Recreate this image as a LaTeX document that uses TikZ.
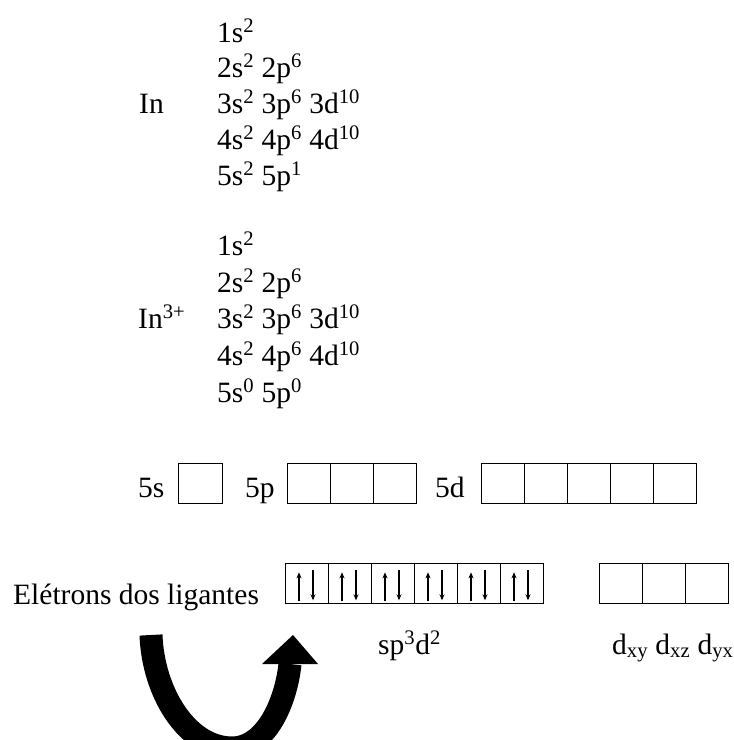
\documentclass[tikz,border=0pt]{standalone}
\usepackage{fontspec}
\setmainfont{Liberation Serif}
\usetikzlibrary{arrows.meta}
\begin{document}
\begin{tikzpicture}[x=1pt,y=-1pt,
  txt/.style={anchor=base west, inner sep=0pt, font=\fontsize{29.5}{35}\selectfont},
  orb/.style={draw, line width=1.3pt, minimum width=43pt, minimum height=40pt, inner sep=0pt, anchor=north west},
  spin/.style={line width=1.1pt, -{Stealth[length=6pt,width=5pt]}},
  bigarrow/.style={line width=23pt}]
\useasboundingbox (0,0) rectangle (734,740);

% In
\node[txt] (inlabel) at (139,113) {In};
\node[txt] (a1) at (217,42) {1s\textsuperscript{2}};
\node[txt] (a2) at (217,77) {2s\textsuperscript{2} 2p\textsuperscript{6}};
\node[txt] (a3) at (217,113) {3s\textsuperscript{2} 3p\textsuperscript{6} 3d\textsuperscript{10}};
\node[txt] (a4) at (217,149) {4s\textsuperscript{2} 4p\textsuperscript{6} 4d\textsuperscript{10}};
\node[txt] (a5) at (217,185) {5s\textsuperscript{2} 5p\textsuperscript{1}};

% In3+
\node[txt] (ionlabel) at (138,328) {In\textsuperscript{3+}};
\node[txt] (b1) at (217,255) {1s\textsuperscript{2}};
\node[txt] (b2) at (217,292) {2s\textsuperscript{2} 2p\textsuperscript{6}};
\node[txt] (b3) at (217,328) {3s\textsuperscript{2} 3p\textsuperscript{6} 3d\textsuperscript{10}};
\node[txt] (b4) at (217,365) {4s\textsuperscript{2} 4p\textsuperscript{6} 4d\textsuperscript{10}};
\node[txt] (b5) at (217,402) {5s\textsuperscript{0} 5p\textsuperscript{0}};

% 5s 5p 5d boxes
\node[txt] (l5s) at (138,497) {5s};
\node[orb, minimum width=44pt] (s0) at (178,463) {};
\node[txt] (l5p) at (245,497) {5p};
\foreach \i in {0,1,2} \node[orb] (p\i) at (287+43*\i,463) {};
\node[txt] (l5d) at (435,497) {5d};
\foreach \i in {0,...,4} \node[orb] (d\i) at (481+43*\i,463) {};

% hybrid row
\node[txt] (lig) at (13,604) {Elétrons dos ligantes};
\foreach \i in {0,...,5} {
  \node[orb] (h\i) at (285+43*\i,563) {};
  \draw[spin] ([xshift=14pt,yshift=3pt]h\i.south west) -- ([xshift=14pt,yshift=32pt]h\i.south west);
  \draw[spin] ([xshift=28pt,yshift=34pt]h\i.south west) -- ([xshift=28pt,yshift=4pt]h\i.south west);
}
\foreach \i in {0,1,2} \node[orb] (e\i) at (599+43*\i,563) {};

\node[txt] (sp) at (378,654) {sp\textsuperscript{3}d\textsuperscript{2}};
\node[txt] (dd) at (612,654) {d\textsubscript{xy} d\textsubscript{xz} d\textsubscript{yx}};

% big curved arrow
\coordinate (arrS) at (151,635);
\coordinate (arrE) at (290,664);
\draw[bigarrow] (arrS) .. controls (153,692) and (187,748) .. (232,748) .. controls (266,748) and (286,702) .. (arrE);
\fill (262,664) -- (318,664) -- (293,635) -- cycle;
\end{tikzpicture}
\end{document}
